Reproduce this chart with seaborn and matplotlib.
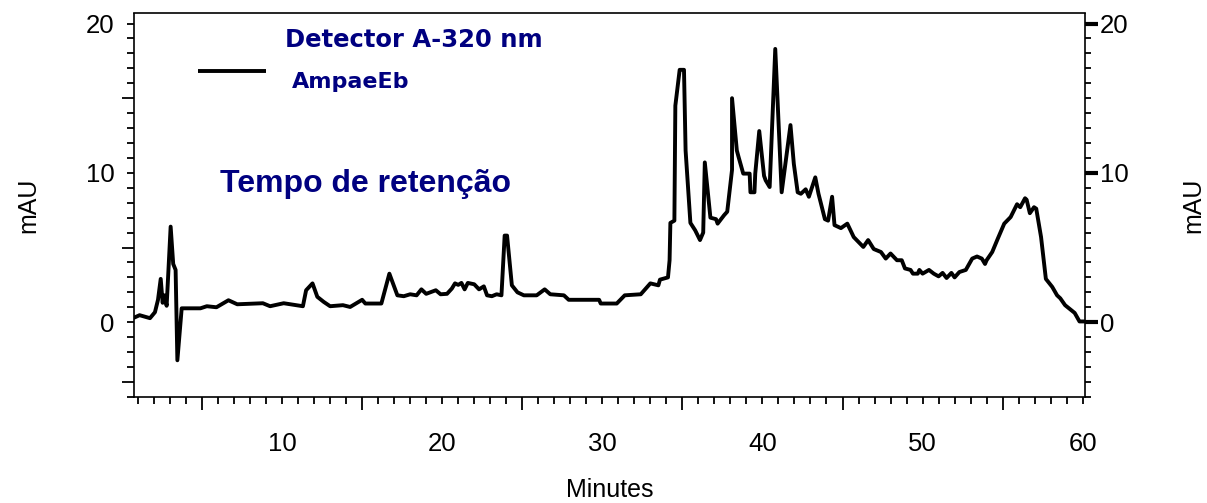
import matplotlib
matplotlib.use("Agg")
import matplotlib.pyplot as plt
import seaborn as sns
import numpy as np
import pandas as pd

# ---- data ----
minutes = [0.69, 1.1, 1.75, 2.06, 2.25, 2.42, 2.54, 2.65, 2.79, 3.04, 3.2, 3.35, 3.46, 3.73,
           4.9, 5.3, 5.9, 6.65, 7.2, 8.8, 9.25, 10.1, 11.3, 11.5, 11.9, 12.2, 12.6, 13.0, 13.8,
           14.25, 15.0, 15.2, 16.2, 16.7, 17.2, 17.6, 18.0, 18.4, 18.7, 19.0, 19.6, 19.9, 20.3,
           20.6, 20.8, 21.0, 21.2, 21.4, 21.6, 22.0, 22.3, 22.6, 22.8, 23.1, 23.4, 23.7, 23.9,
           24.05, 24.35, 24.7, 25.1, 25.9, 26.4, 26.75, 27.6, 27.9, 28.6, 29.8, 29.9, 30.9, 31.4,
           32.4, 33.0, 33.5, 33.6, 34.1, 34.2, 34.25, 34.5, 34.56, 34.83, 35.1, 35.2, 35.5, 35.8,
           36.1, 36.3, 36.4, 36.75, 37.1, 37.2, 37.6, 37.8, 38.1, 38.1, 38.4, 38.5, 38.8, 39.2,
           39.25, 39.5, 39.55, 39.8, 40.1, 40.2, 40.45, 40.8, 41.2, 41.75, 41.96, 42.2, 42.4,
           42.7, 42.9, 43.3, 43.5, 43.9, 44.1, 44.35, 44.5, 44.9, 45.3, 45.7, 46.3, 46.6, 46.95,
           47.4, 47.7, 48.0, 48.4, 48.7, 48.9, 49.25, 49.4, 49.7, 49.8, 50.0, 50.4, 50.7, 51.0,
           51.25, 51.5, 51.8, 52.0, 52.3, 52.7, 53.1, 53.4, 53.7, 53.9, 54.0, 54.35, 54.7, 55.1,
           55.5, 55.9, 56.1, 56.4, 56.5, 56.7, 56.96, 57.1, 57.4, 57.7, 58.1, 58.4, 58.6, 58.9,
           59.5, 59.8, 60.1]
mau = [0.27, 0.47, 0.27, 0.67, 1.5, 2.9, 1.3, 1.8, 1.1, 6.4, 3.9, 3.5, -2.55, 0.93,
       0.93, 1.07, 1.0, 1.47, 1.2, 1.27, 1.07, 1.27, 1.07, 2.14, 2.6, 1.7, 1.36, 1.07, 1.14,
       1.02, 1.5, 1.25, 1.25, 3.25, 1.8, 1.74, 1.87, 1.8, 2.2, 1.9, 2.14, 1.87, 1.9,
       2.25, 2.6, 2.5, 2.63, 2.2, 2.63, 2.54, 2.2, 2.4, 1.8, 1.74, 1.87, 1.8, 5.8,
       5.8, 2.47, 2.0, 1.8, 1.8, 2.2, 1.87, 1.8, 1.5, 1.5, 1.5, 1.25, 1.25, 1.8,
       1.87, 2.6, 2.47, 2.85, 3.0, 4.15, 6.65, 6.8, 14.5, 16.9, 16.9, 11.5, 6.65, 6.15,
       5.5, 6.0, 10.7, 7.0, 6.9, 6.6, 7.16, 7.4, 10.2, 15.0, 11.5, 11.1, 9.95, 9.95,
       8.7, 8.7, 9.95, 12.8, 9.8, 9.5, 9.05, 18.3, 8.7, 13.2, 10.6, 8.7, 8.6,
       8.9, 8.4, 9.7, 8.6, 6.9, 6.8, 8.4, 6.5, 6.3, 6.6, 5.7, 5.04, 5.5, 4.9,
       4.7, 4.26, 4.6, 4.15, 4.15, 3.6, 3.5, 3.25, 3.25, 3.5, 3.25, 3.5, 3.25, 3.07,
       3.3, 2.96, 3.3, 3.0, 3.36, 3.5, 4.26, 4.4, 4.26, 3.9, 4.15, 4.7, 5.6, 6.6,
       7.04, 7.9, 7.7, 8.3, 8.2, 7.3, 7.7, 7.6, 5.7, 2.9, 2.36, 1.8, 1.6, 1.14,
       0.62, 0.05, 0.05]

x_tick_labels = [10, 20, 30, 40, 50, 60]
y_tick_labels = [0, 10, 20]
title_text = "Detector A-320 nm"
series_name = "AmpaeEb"
note_text = "Tempo de retenção"

df = pd.DataFrame({"Minutes": minutes, "mAU": mau})

sns.set_style("ticks")
plt.rcParams["font.family"] = ["Liberation Sans", "DejaVu Sans"]
plt.rcParams["text.color"] = "black"
plt.rcParams["xtick.color"] = "black"
plt.rcParams["ytick.color"] = "black"
plt.rcParams["axes.labelcolor"] = "black"

fig = plt.figure(figsize=(12.07, 5.03), dpi=100)
ax = fig.add_axes([0.111, 0.211, 0.788, 0.763])

sns.lineplot(data=df, x="Minutes", y="mAU", sort=False, estimator=None,
             color="black", linewidth=2.8, ax=ax)

ax.set_xlim(0.75, 60.15)
ax.set_ylim(-5, 20.7)

navy = "#000080"
spine_ls = (0, (2, 1))
for s in ["left", "right", "top", "bottom"]:
    ax.spines[s].set_visible(True)
    ax.spines[s].set_color("black")
    ax.spines[s].set_linewidth(1.2)
    ax.spines[s].set_linestyle(spine_ls)

tick_fs = 18.5
label_fs = 18

# main axis: unlabeled ticks
ax.set_xticks([5, 15, 25, 35, 45, 55])
ax.set_xticks(np.arange(1, 61, 1), minor=True)
ax.set_yticks([-4, 5, 15])
ax.set_yticks(np.arange(-5, 21, 1), minor=True)
ax.tick_params(axis="both", which="major", length=9, width=1.3, color="black",
               labelbottom=False, labelleft=False, direction="out")
ax.tick_params(axis="both", which="minor", length=5, width=1.3, color="black", direction="out")
ax.tick_params(axis="y", which="both", right=False)
ax.tick_params(axis="x", which="both", top=False)
ax.set_xlabel("Minutes", fontsize=label_fs, color="black")
ax.xaxis.set_label_coords(0.5, -0.212)
ax.set_ylabel("mAU", fontsize=label_fs, color="black")
ax.yaxis.set_label_coords(-0.098, 0.5)

# labelled bottom axis
secx = ax.secondary_xaxis("bottom")
secx.set_xticks(x_tick_labels)
secx.tick_params(length=0, pad=25, labelsize=tick_fs, labelcolor="black")
secx.spines["bottom"].set_visible(False)

# labelled left axis
secl = ax.secondary_yaxis("left")
secl.set_yticks(y_tick_labels)
secl.tick_params(length=0, pad=14, labelsize=tick_fs, labelcolor="black")
secl.spines["left"].set_visible(False)

# labelled right axis
secr = ax.secondary_yaxis("right")
secr.set_yticks(y_tick_labels)
secr.set_yticks(np.arange(-5, 21, 1), minor=True)
secr.tick_params(which="major", length=9, width=3, pad=1.5, labelsize=tick_fs,
                 color="black", labelcolor="black")
secr.tick_params(which="minor", length=4.5, width=1.3, color="black")
secr.spines["right"].set_visible(False)
secr.set_ylabel("mAU", fontsize=label_fs, color="black")
secr.yaxis.set_label_coords(1.101, 0.5, transform=ax.transAxes)

# legend-like annotations
ax.plot([0.0673, 0.1388], [0.849, 0.849], transform=ax.transAxes,
        color="black", linewidth=2.8, solid_capstyle="butt")
ax.text(0.1588, 0.911, title_text, transform=ax.transAxes, color=navy,
        fontsize=17.5, fontweight="bold", family="DejaVu Sans", va="baseline", ha="left")
ax.text(0.166, 0.804, series_name, transform=ax.transAxes, color=navy,
        fontsize=16, fontweight="bold", family="DejaVu Sans", va="baseline", ha="left")
ax.text(0.0904, 0.535, note_text, transform=ax.transAxes, color=navy,
        fontsize=23, fontweight="bold", va="baseline", ha="left")

fig.savefig("out.png", dpi=100)
